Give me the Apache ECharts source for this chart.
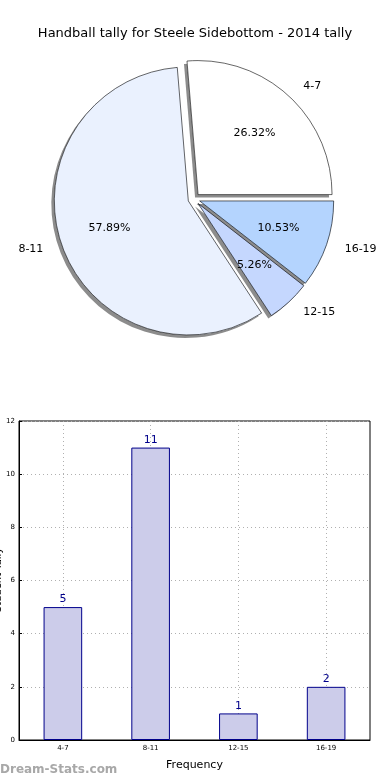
<!DOCTYPE html>
<html>
<head>
<meta charset="utf-8">
<script src="https://cdn.jsdelivr.net/npm/echarts@6/dist/echarts.min.js"></script>
<style>
html,body{margin:0;padding:0;background:#fff;}
#c{width:390px;height:780px;}
</style>
</head>
<body>
<div id="c"></div>
<script>
var titleText = 'Handball tally for Steele Sidebottom - 2014 tally';
var yAxisName = 'Student Tally';
var categories = ['4-7', '8-11', '12-15', '16-19'];
var tallies = [5, 11, 1, 2];
var percents = ['26.32%', '57.89%', '5.26%', '10.53%'];
var pieColors = ['#ffffff', '#eaf1fe', '#c5d7fe', '#b4d4fe'];
var yTicks = [0, 2, 4, 6, 8, 10, 12];

var font = 'DejaVu Sans';
var pieCenter = [194, 199];
var R = 134;
var explode = 6;

function pieBase(extra) {
  var o = {
    type: 'pie',
    center: pieCenter,
    radius: [0, R],
    startAngle: 0,
    clockwise: false,
    selectedMode: 'multiple',
    selectedOffset: explode,
    silent: true,
    avoidLabelOverlap: false,
    emphasis: { disabled: true },
    labelLine: { show: false }
  };
  for (var k in extra) o[k] = extra[k];
  return o;
}

var sliceData = categories.map(function (c, i) {
  return { name: c, value: tallies[i], selected: true, itemStyle: { color: pieColors[i] } };
});
var pctData = categories.map(function (c, i) {
  return { name: percents[i], value: tallies[i], selected: true };
});

var chart = echarts.init(document.getElementById('c'), null, { renderer: 'canvas' });
chart.setOption({
  animation: false,
  backgroundColor: '#ffffff',
  textStyle: { fontFamily: font },
  title: {
    text: titleText,
    left: 'center',
    top: 22,
    textStyle: { fontFamily: font, fontSize: 13, fontWeight: 'normal', color: '#000' }
  },
  graphic: [{
    type: 'text',
    left: 0,
    top: 764,
    style: { text: 'Dream-Stats.com', fill: '#a8a8a8', font: 'bold 12px "DejaVu Sans"' }
  }, {
    type: 'text',
    x: -2,
    y: 580,
    rotation: Math.PI / 2,
    style: {
      text: yAxisName, fill: '#000', font: '10px "DejaVu Sans"',
      align: 'center', verticalAlign: 'middle'
    }
  }],
  grid: {
    left: 19, right: 20, top: 421, bottom: 40,
    containLabel: false,
    outerBoundsMode: 'none',
    show: true, borderColor: '#000', borderWidth: 1, backgroundColor: 'transparent'
  },
  xAxis: {
    type: 'category',
    data: categories,
    name: 'Frequency',
    nameLocation: 'middle',
    nameGap: 20,
    nameTextStyle: { fontFamily: font, fontSize: 11, color: '#000' },
    axisLine: { lineStyle: { color: '#000', width: 1 } },
    axisTick: { show: true, alignWithLabel: true, inside: true, length: 3, lineStyle: { color: '#000' } },
    axisLabel: { fontFamily: font, fontSize: 7, color: '#000', margin: 5 },
    splitLine: { show: true, alignWithLabel: true, lineStyle: { color: '#b0b0b0', type: [1, 3], width: 1 } }
  },
  yAxis: {
    type: 'value',
    min: 0, max: 12, interval: 2,
    axisLine: { show: true, lineStyle: { color: '#000', width: 1 } },
    axisTick: { show: true, inside: true, length: 3, lineStyle: { color: '#000' } },
    axisLabel: {
      fontFamily: font, fontSize: 7, color: '#000', margin: 4,
      formatter: function (v) { return yTicks.indexOf(v) >= 0 ? String(v) : ''; }
    },
    splitLine: { show: true, lineStyle: { color: '#b0b0b0', type: [1, 3], width: 1 } }
  },
  series: [
    pieBase({
      z: 1,
      itemStyle: {
        borderWidth: 0,
        shadowColor: 'rgba(0,0,0,0.45)', shadowBlur: 0, shadowOffsetX: -3, shadowOffsetY: 3
      },
      label: { show: false },
      data: sliceData
    }),
    pieBase({
      z: 2,
      itemStyle: { borderColor: '#000', borderWidth: 0.6 },
      label: {
        show: true, position: 'outside', fontFamily: font, fontSize: 11, color: '#000',
        formatter: '{b}'
      },
      labelLine: { show: false, length: 14, length2: 0 },
      data: sliceData
    }),
    pieBase({
      z: 3,
      radius: [0, R * 1.2],
      itemStyle: { color: 'rgba(0,0,0,0)', borderWidth: 0 },
      label: {
        show: true, position: 'inside', fontFamily: font, fontSize: 11, color: '#000',
        formatter: '{b}'
      },
      data: pctData
    }),
    {
      type: 'bar',
      data: tallies,
      barWidth: '44%',
      itemStyle: { color: '#ccccea', borderColor: '#00008b', borderWidth: 1 },
      label: { show: true, position: 'top', distance: 2, fontFamily: font, fontSize: 11, color: '#00008b' },
      emphasis: { disabled: true }
    }
  ]
});
</script>
</body>
</html>
